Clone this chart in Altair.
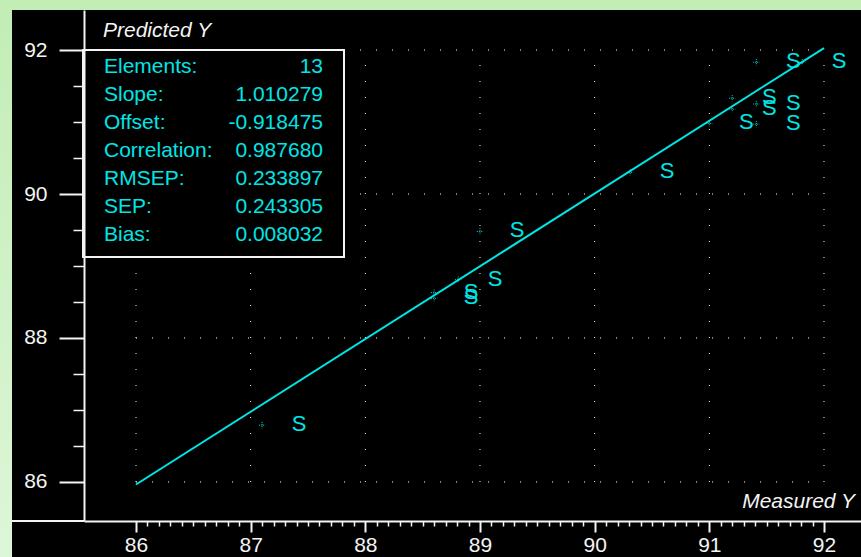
import altair as alt
import pandas as pd

# Measured vs. predicted values for the 13 samples
measured = [87.10, 88.60, 88.60, 88.81, 89.00, 90.31, 91.00, 91.20, 91.20, 91.41, 91.41, 91.41, 91.81]
predicted = [86.79, 88.63, 88.55, 88.81, 89.48, 90.30, 90.98, 91.33, 91.18, 91.83, 91.25, 90.97, 91.83]
sample_names = ["S"] * 13

# Regression statistics shown in the summary box
stat_names = ["Elements:", "Slope:", "Offset:", "Correlation:", "RMSEP:", "SEP:", "Bias:"]
stat_values = ["13", "1.010279", "-0.918475", "0.987680", "0.233897", "0.243305", "0.008032"]
slope = 1.010279
offset = -0.918475

# Axis ticks and dotted grid positions
x_ticks = [round(86 + 0.1 * i, 1) for i in range(61)]
y_ticks = [86 + 0.5 * i for i in range(13)]
grid_x = [86, 87, 88, 89, 90, 91, 92]
grid_y = [86, 88, 90, 92]
fit_x = [86, 92]

W, H = 777, 511
FONT = "Arial, Liberation Sans, sans-serif"
CYAN = "#00e5e5"
WHITE = "#f4f4f4"

pts = pd.DataFrame({"measured": measured, "predicted": predicted, "name": sample_names})
fit = pd.DataFrame({"measured": fit_x, "predicted": [slope * v + offset for v in fit_x]})
vgrid = pd.DataFrame({"gx": grid_x, "y0": [min(grid_y)] * len(grid_x), "y1": [max(grid_y)] * len(grid_x)})
hgrid = pd.DataFrame({"gy": grid_y, "x0": [min(grid_x)] * len(grid_y), "x1": [max(grid_x)] * len(grid_y)})
one = pd.DataFrame({"k": [0]})

xs = alt.Scale(domain=[85.5465, 92.3227], nice=False, zero=False)
ys = alt.Scale(domain=[85.4583, 92.5556], nice=False, zero=False)

is_int_x = "abs(datum.value - round(datum.value)) < 0.001"
is_major_y = "datum.value % 2 == 0"

x_axis = alt.Axis(
    values=x_ticks, title=None, grid=False, zindex=1,
    labelExpr=f"{is_int_x} ? format(datum.value, '.0f') : ''",
    tickSize={"condition": {"test": is_int_x, "value": 11}, "value": 5},
    tickWidth={"condition": {"test": is_int_x, "value": 2}, "value": 1.5},
    tickColor=WHITE, domainColor=WHITE, domainWidth=2,
    labelColor=WHITE, labelFont=FONT, labelFontSize=21, labelPadding=2,
    labelOverlap=False, labelFlush=False,
)
y_axis = alt.Axis(
    values=y_ticks, title=None, grid=False, zindex=1,
    labelExpr=f"{is_major_y} ? format(datum.value, '.0f') : ''",
    tickSize={"condition": {"test": is_major_y, "value": 25}, "value": 11},
    tickWidth={"condition": {"test": is_major_y, "value": 2}, "value": 1.5},
    tickColor=WHITE, domainColor=WHITE, domainWidth=2,
    labelColor=WHITE, labelFont=FONT, labelFontSize=21, labelPadding=12,
    labelOverlap=False, labelFlush=False,
)

# Page background and black panel
backdrop = alt.Chart(one).mark_rect(
    color=alt.LinearGradient(
        gradient="linear", x1=0, x2=0, y1=0, y2=1,
        stops=[alt.GradientStop(color="#c2edb5", offset=0),
               alt.GradientStop(color="#ddf6d8", offset=1)],
    )
).encode(x=alt.value(-84), x2=alt.value(W), y=alt.value(-10), y2=alt.value(H + 36))

panel = alt.Chart(one).mark_rect(color="black").encode(
    x=alt.value(-72), x2=alt.value(W), y=alt.value(0), y2=alt.value(H + 36)
)

# x-axis line continues under the y-axis labels
axis_ext = alt.Chart(one).mark_rule(color=WHITE, strokeWidth=2).encode(
    x=alt.value(-72), x2=alt.value(0), y=alt.value(H)
)

vlines = alt.Chart(vgrid).mark_rule(color="white", strokeWidth=1, strokeDash=[1, 15]).encode(
    x=alt.X("gx:Q", scale=xs, axis=x_axis),
    y=alt.Y("y0:Q", scale=ys, axis=y_axis),
    y2="y1:Q",
)
hlines = alt.Chart(hgrid).mark_rule(color="white", strokeWidth=1, strokeDash=[1, 15]).encode(
    y=alt.Y("gy:Q", scale=ys, axis=y_axis),
    x=alt.X("x0:Q", scale=xs, axis=x_axis),
    x2="x1:Q",
)

fit_line = alt.Chart(fit).mark_line(color=CYAN, strokeWidth=2).encode(
    x=alt.X("measured:Q", scale=xs, axis=x_axis),
    y=alt.Y("predicted:Q", scale=ys, axis=y_axis),
)

markers = alt.Chart(pts).mark_point(
    shape="M-1,0L1,0M0,-1L0,1", size=40, filled=False, stroke=CYAN,
    strokeWidth=1, strokeDash=[1, 1], opacity=0.9,
).encode(
    x=alt.X("measured:Q", scale=xs, axis=x_axis),
    y=alt.Y("predicted:Q", scale=ys, axis=y_axis),
)

labels = alt.Chart(pts).mark_text(
    color=CYAN, font=FONT, fontSize=22, align="center", baseline="middle", dx=37, dy=-1,
).encode(
    x=alt.X("measured:Q", scale=xs, axis=x_axis),
    y=alt.Y("predicted:Q", scale=ys, axis=y_axis),
    text="name:N",
)

# Summary statistics box
box = alt.Chart(one).mark_rect(fill="black", stroke=WHITE, strokeWidth=2).encode(
    x=alt.value(-1), x2=alt.value(260), y=alt.value(40), y2=alt.value(247)
)
box_names = alt.Chart(one).mark_text(
    text=stat_names, lineHeight=28, color=CYAN, font=FONT, fontSize=21,
    align="left", baseline="alphabetic",
).encode(x=alt.value(20), y=alt.value(63))
box_values = alt.Chart(one).mark_text(
    text=stat_values, lineHeight=28, color=CYAN, font=FONT, fontSize=21,
    align="right", baseline="alphabetic",
).encode(x=alt.value(239), y=alt.value(63))

y_title = alt.Chart(one).mark_text(
    text="Predicted Y", color=WHITE, font=FONT, fontSize=21, fontStyle="italic",
    align="left", baseline="alphabetic",
).encode(x=alt.value(19), y=alt.value(27))
x_title = alt.Chart(one).mark_text(
    text="Measured Y", color=WHITE, font=FONT, fontSize=21, fontStyle="italic",
    align="right", baseline="alphabetic",
).encode(x=alt.value(771), y=alt.value(498))

chart = alt.layer(
    backdrop, panel, axis_ext, vlines, hlines, fit_line, markers, labels,
    box, box_names, box_values, y_title, x_title,
).properties(
    width=W, height=H,
    autosize=alt.AutoSizeParams(type="none"),
    padding={"left": 84, "top": 10, "right": 0, "bottom": 36},
).configure(background="#c8efbf").configure_view(stroke=None)

chart.save("out.html", embed_options={"renderer": "svg", "actions": False})
